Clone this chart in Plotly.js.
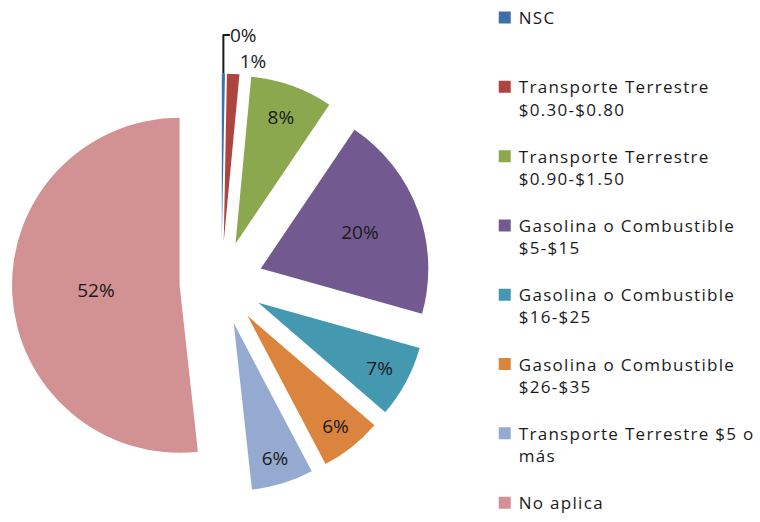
<!DOCTYPE html>
<html>
<head>
<meta charset="utf-8">
<script src="https://cdn.plot.ly/plotly-3.0.1.min.js"></script>
<style>
html,body{margin:0;padding:0;background:#fff;}
#chart{width:760px;height:522px;}
.legendtext{letter-spacing:1.3px;}
</style>
</head>
<body>
<div id="chart"></div>
<script>
const categories = [
  "NSC",
  "Transporte Terrestre<br>$0.30-$0.80",
  "Transporte Terrestre<br>$0.90-$1.50",
  "Gasolina o Combustible<br>$5-$15",
  "Gasolina o Combustible<br>$16-$25",
  "Gasolina o Combustible<br>$26-$35",
  "Transporte Terrestre $5 o<br>más",
  "No aplica"
];
const values = [0.3, 1.2, 8, 20, 7, 6, 6, 52];
const colors = ["#3F6FA8", "#AE4440", "#8BA84F", "#72598F", "#4498B0", "#DB843E", "#95AAD1", "#D29192"];
const textPositions = ["outside", "outside", "inside", "inside", "inside", "inside", "inside", "inside"];

const legendLabels = categories.map(c => c.indexOf("<br>") >= 0 ? c + "<br> " : c + "<br> <br> ");

const trace = {
  type: "pie",
  labels: legendLabels,
  values: values,
  sort: false,
  direction: "clockwise",
  rotation: 0,
  pull: values.map(() => 0.25),
  marker: {colors: colors, line: {width: 0}},
  texttemplate: "%{percent:.0%}",
  textposition: textPositions,
  insidetextorientation: "horizontal",
  textfont: {family: "Open Sans", size: 19, color: "#1a1a1a"},
  outsidetextfont: {family: "Open Sans", size: 19, color: "#1a1a1a"},
  hoverinfo: "label+percent",
  domain: {x: [12/760, 432/760], y: [29/522, 449/522]}
};

const layout = {
  width: 760, height: 522,
  margin: {l: 0, r: 0, t: 0, b: 0},
  paper_bgcolor: "#fff",
  showlegend: true,
  legend: {
    x: 480/760, xanchor: "left",
    y: 1 - 5/522, yanchor: "top",
    valign: "top",
    font: {family: "Open Sans", size: 17, color: "#1a1a1a"},
    bgcolor: "rgba(0,0,0,0)"
  }
};

Plotly.newPlot("chart", [trace], layout, {displayModeBar: false, staticPlot: true}).then(gd => {
  // Nudge legend swatches closer to their text, as in the reference.
  gd.querySelectorAll(".legendpoints").forEach(g => {
    g.setAttribute("transform", "translate(6,0)");
  });
});
</script>
</body>
</html>
